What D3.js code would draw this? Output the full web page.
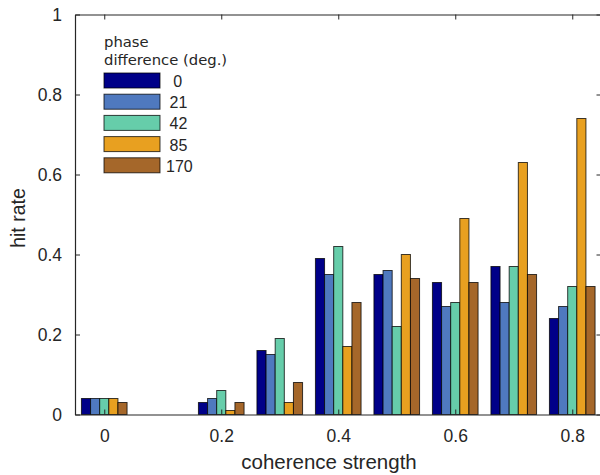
<!DOCTYPE html>
<meta charset="utf-8">
<style>
  body { margin: 0; background: #fff; }
  svg text { font-family: "Liberation Sans", Arial, sans-serif; fill: #262626; }
  .axis path, .axis line { stroke: #262626; }
  .bars rect { stroke: #000; stroke-opacity: 0.75; stroke-width: 1; }
</style>
<body>
<script src="https://d3js.org/d3.v7.min.js"></script>
<script>
  // coherence strength for each group
  var coherence = [0, 0.2, 0.3, 0.4, 0.5, 0.6, 0.7, 0.8]
  // phase difference (deg.)
  var phases = ['0', '21', '42', '85', '170']
  var colors = ['#000088', '#4f79bf', '#66cdaa', '#e8a020', '#a5672a']

  // hit rate per phase, one value per coherence level
  var hit0   = [0.04, 0.03, 0.16, 0.39, 0.35, 0.33, 0.37, 0.24]
  var hit21  = [0.04, 0.04, 0.15, 0.35, 0.36, 0.27, 0.28, 0.27]
  var hit42  = [0.04, 0.06, 0.19, 0.42, 0.22, 0.28, 0.37, 0.32]
  var hit85  = [0.04, 0.01, 0.03, 0.17, 0.40, 0.49, 0.63, 0.74]
  var hit170 = [0.03, 0.03, 0.08, 0.28, 0.34, 0.33, 0.35, 0.32]
  var series = [hit0, hit21, hit42, hit85, hit170]

  var xTicks = [0, 0.2, 0.4, 0.6, 0.8]
  var yTicks = [0, 0.2, 0.4, 0.6, 0.8, 1]

  var width = 600, height = 475
  var plotLeft = 75, plotRight = 601.5, plotTop = 14.5, plotBottom = 414.5

  var svg = d3.select('body').append('svg')
    .attr('width', width)
    .attr('height', height)

  var x = d3.scaleLinear().domain([-0.05, 0.85]).range([plotLeft, plotRight])
  var y = d3.scaleLinear().domain([0, 1]).range([plotBottom, plotTop])

  // bars: each group is split into the five phases
  var groupW = 0.078
  var inner = d3.scaleBand().domain(phases).range([0, x(groupW) - x(0)])

  var bars = svg.append('g').attr('class', 'bars')
  series.forEach(function (vals, i) {
    bars.selectAll('rect.s' + i)
      .data(vals)
      .enter().append('rect')
      .attr('class', 's' + i)
      .attr('x', function (d, j) { return x(coherence[j] - groupW / 2) + inner(phases[i]) })
      .attr('width', inner.bandwidth())
      .attr('y', function (d) { return y(d) })
      .attr('height', function (d) { return y(0) - y(d) })
      .attr('fill', colors[i])
  })

  // box axes with inward ticks
  var fmt = function (d) { return d === 0 || d === 1 ? d3.format('d')(d) : d3.format('.1f')(d) }

  var xAxis = svg.append('g').attr('class', 'axis')
    .attr('transform', 'translate(0,' + plotBottom + ')')
    .call(d3.axisBottom(x).tickValues(xTicks).tickFormat(fmt).tickSizeInner(-5).tickSizeOuter(0).tickPadding(15))
  xAxis.selectAll('text').attr('font-size', 17.5)

  svg.append('g').attr('class', 'axis')
    .attr('transform', 'translate(0,' + plotTop + ')')
    .call(d3.axisTop(x).tickValues(xTicks).tickFormat('').tickSizeInner(-5).tickSizeOuter(0))

  var yAxis = svg.append('g').attr('class', 'axis')
    .attr('transform', 'translate(' + plotLeft + ',0)')
    .call(d3.axisLeft(y).tickValues(yTicks).tickFormat(fmt).tickSizeInner(-5).tickSizeOuter(0).tickPadding(13))
  yAxis.selectAll('text').attr('font-size', 17.5)

  svg.append('g').attr('class', 'axis')
    .attr('transform', 'translate(' + plotRight + ',0)')
    .call(d3.axisRight(y).tickValues(yTicks).tickFormat('').tickSizeInner(-5).tickSizeOuter(0))

  svg.selectAll('.axis path').attr('stroke-width', 1.2)

  // axis labels
  svg.append('text')
    .attr('x', 329).attr('y', 469)
    .attr('text-anchor', 'middle')
    .attr('font-size', 20.5)
    .text('coherence strength')

  svg.append('text')
    .attr('transform', 'translate(25,' + 218 + ') rotate(-90)')
    .attr('text-anchor', 'middle')
    .attr('font-size', 19.5)
    .text('hit rate')

  // legend
  var legend = svg.append('g').attr('transform', 'translate(104,0)')
  legend.append('text').attr('x', 0).attr('y', 47).attr('font-size', 14.8)
    .style('font-family', '"DejaVu Sans", Verdana, sans-serif').text('phase')
  legend.append('text').attr('x', 0).attr('y', 65).attr('font-size', 14.8)
    .style('font-family', '"DejaVu Sans", Verdana, sans-serif').text('difference (deg.)')

  var rows = legend.selectAll('g.row')
    .data(phases)
    .enter().append('g')
    .attr('class', 'row')
    .attr('transform', function (d, i) { return 'translate(0,' + (73 + i * 21.2) + ')' })

  rows.append('rect')
    .attr('width', 56).attr('height', 15)
    .attr('fill', function (d, i) { return colors[i] })
    .attr('stroke', '#000').attr('stroke-opacity', 0.75)

  rows.append('text')
    .attr('x', function (d) { return 62 + (3 - d.length) * 3.6 })
    .attr('y', 14)
    .attr('font-size', 16)
    .text(function (d) { return d })
</script>
</body>
